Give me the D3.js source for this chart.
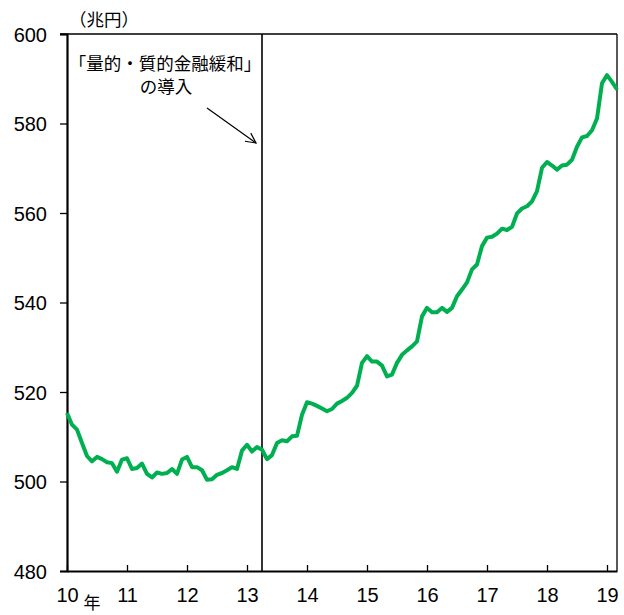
<!DOCTYPE html>
<html>
<head>
<meta charset="utf-8">
<script src="https://cdn.jsdelivr.net/npm/d3@7"></script>
<style>
  body { margin: 0; background: #fff; }
  svg { display: block; }
  .num { font-family: "Liberation Sans Narrow", "Liberation Sans", Arial, sans-serif; font-size: 20px; fill: #000; }
  .jp { font-family: "Noto Sans CJK JP", sans-serif; font-size: 17.5px; fill: #000; }
</style>
</head>
<body>
<svg id="chart" width="624" height="615"></svg>
<script>
// Monthly series, Jan 2010 through Mar 2019 (trillion yen)
const startYear = 2010;
const values = [
  // 2010
  515.3, 512.7, 511.6, 508.6, 505.7, 504.5, 505.5, 505.0, 504.3, 504.1, 502.2, 504.9,
  // 2011
  505.2, 502.8, 503.0, 504.0, 501.7, 500.9, 502.0, 501.7, 501.9, 502.8, 501.7, 504.9,
  // 2012
  505.5, 503.2, 503.2, 502.5, 500.4, 500.5, 501.5, 501.9, 502.5, 503.2, 502.8, 506.9,
  // 2013
  508.2, 506.7, 507.7, 507.1, 505.0, 505.9, 508.6, 509.2, 509.0, 510.1, 510.2, 514.9,
  // 2014
  517.7, 517.4, 516.9, 516.3, 515.7, 516.2, 517.4, 518.0, 518.7, 519.8, 521.4, 526.5,
  // 2015
  528.0, 526.8, 526.8, 525.9, 523.5, 523.9, 526.5, 528.3, 529.3, 530.2, 531.3, 536.9,
  // 2016
  538.8, 537.8, 537.8, 538.8, 537.9, 538.8, 541.4, 542.9, 544.5, 547.4, 548.5, 552.6,
  // 2017
  554.5, 554.7, 555.4, 556.5, 556.2, 556.9, 559.9, 561.0, 561.5, 562.6, 564.9, 570.1,
  // 2018
  571.4, 570.6, 569.7, 570.6, 570.8, 571.9, 574.8, 576.9, 577.2, 578.5, 581.1, 589.0,
  // 2019
  590.8, 589.3, 587.6
];
const yearTicks = [10, 11, 12, 13, 14, 15, 16, 17, 18, 19];
const valueTicks = [480, 500, 520, 540, 560, 580, 600];
const unitLabel = "（兆円）";
const yearLabel = "年";
const policyLabel = ["「量的・質的金融緩和」", "の導入"];
const policyDate = 13 + 3 / 12; // April 2013

const series = values.map((v, i) => ({ t: (startYear - 2000) + i / 12, v }));

const svg = d3.select("#chart");
const margin = { left: 67, right: 7, top: 34, bottom: 44 };
const W = 624, H = 615;

const x = d3.scaleLinear()
  .domain([10, series[series.length - 1].t])
  .range([margin.left, W - margin.right]);
const y = d3.scaleLinear()
  .domain([480, 600])
  .range([H - margin.bottom, margin.top]);

// frame: top and right borders
svg.append("line")
  .attr("x1", margin.left - 7).attr("x2", x.range()[1])
  .attr("y1", y(600)).attr("y2", y(600))
  .attr("stroke", "#000").attr("stroke-width", 1.3);
svg.append("line")
  .attr("x1", x.range()[1]).attr("x2", x.range()[1])
  .attr("y1", y(600)).attr("y2", y(480))
  .attr("stroke", "#000").attr("stroke-width", 1.3);

// y axis
const yAxis = svg.append("g")
  .attr("transform", `translate(${margin.left},0)`)
  .call(d3.axisLeft(y).tickValues(valueTicks).tickSize(7).tickFormat(d3.format("d")));
yAxis.select(".domain").attr("stroke-width", 2.2);
yAxis.selectAll(".tick line").attr("stroke-width", 1.3);
yAxis.selectAll(".tick text")
  .attr("class", "num")
  .attr("x", -20)
  .attr("dy", "0.36em")
  .style("font-size", null).style("font-family", null);

// x axis with inward ticks
const xAxis = svg.append("g")
  .attr("transform", `translate(0,${y(480)})`)
  .call(d3.axisBottom(x).tickValues(yearTicks).tickSizeInner(-6).tickSizeOuter(0).tickFormat(d3.format("d")));
xAxis.select(".domain").attr("stroke-width", 2.2);
xAxis.selectAll(".tick line").attr("stroke-width", 1.3);
xAxis.selectAll(".tick text")
  .attr("class", "num")
  .attr("y", 31)
  .attr("dy", 0)
  .style("font-size", null).style("font-family", null);

// policy line
svg.append("line")
  .attr("x1", x(policyDate)).attr("x2", x(policyDate))
  .attr("y1", y(600)).attr("y2", y(480))
  .attr("stroke", "#000").attr("stroke-width", 1.6);

// series line
const line = d3.line().x(d => x(d.t)).y(d => y(d.v));
svg.append("path")
  .datum(series)
  .attr("fill", "none")
  .attr("stroke", "#00b050")
  .attr("stroke-width", 4)
  .attr("stroke-linejoin", "round")
  .attr("d", line);

// texts
svg.append("text").attr("class", "jp")
  .attr("x", 69).attr("y", 26)
  .text(unitLabel);
svg.append("text").attr("class", "jp")
  .attr("x", 92).attr("y", 609).attr("text-anchor", "middle")
  .style("font-size", "17px")
  .text(yearLabel);
svg.append("text").attr("class", "jp")
  .attr("x", 165).attr("y", 70).attr("text-anchor", "middle")
  .text(policyLabel[0]);
svg.append("text").attr("class", "jp")
  .attr("x", 166).attr("y", 93).attr("text-anchor", "middle")
  .text(policyLabel[1]);

// arrow pointing at the policy line
svg.append("defs").append("marker")
  .attr("id", "arrow")
  .attr("viewBox", "0 0 12 12")
  .attr("refX", 11).attr("refY", 6)
  .attr("markerWidth", 12).attr("markerHeight", 12)
  .attr("markerUnits", "userSpaceOnUse")
  .attr("orient", "auto")
  .append("path")
  .attr("d", "M1,1 L11,6 L1,11")
  .attr("fill", "none").attr("stroke", "#000").attr("stroke-width", 1.2);
svg.append("line")
  .attr("x1", 207).attr("y1", 108)
  .attr("x2", x(policyDate) - 6).attr("y2", 143)
  .attr("stroke", "#000").attr("stroke-width", 1.2)
  .attr("marker-end", "url(#arrow)");
</script>
</body>
</html>
